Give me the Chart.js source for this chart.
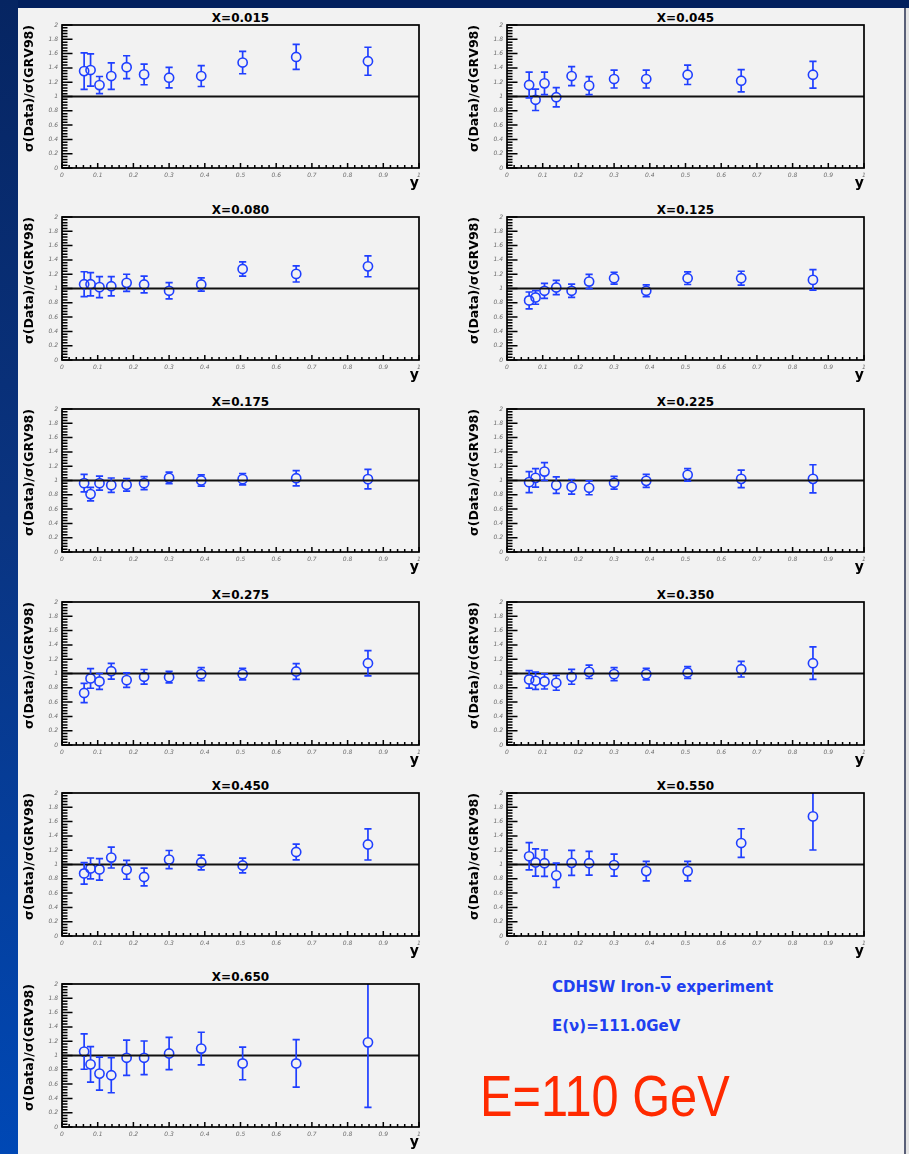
<!DOCTYPE html>
<html><head><meta charset="utf-8">
<script src="https://cdn.jsdelivr.net/npm/chart.js@4.4.1/dist/chart.umd.min.js"></script>
<style>
html,body{margin:0;padding:0;}
body{width:909px;height:1154px;position:relative;overflow:hidden;background:#02205e;font-family:'DejaVu Sans',sans-serif;}
#strip{position:absolute;left:0;top:0;width:18px;height:1154px;background:linear-gradient(to bottom,#062562 0%,#0a3481 45%,#0048b5 100%);}
#sheet{position:absolute;left:18px;top:8px;width:887px;height:1146px;background:#f2f2f2;}
#edge{position:absolute;left:904px;top:8px;width:2px;height:1146px;background:#5a6078;}
#edge2{position:absolute;left:906px;top:8px;width:3px;height:1146px;background:#e4e4e4;}
canvas{position:absolute;}
.ptitle{position:absolute;width:357px;text-align:center;font:bold 12px 'DejaVu Sans',sans-serif;color:#000;line-height:14px;white-space:nowrap;}
.note{position:absolute;left:552px;font:bold 15px 'DejaVu Sans',sans-serif;color:#2040f0;line-height:18px;white-space:nowrap;}
.nubar{text-decoration:overline;text-decoration-thickness:2px;}
#big{position:absolute;left:480px;top:1067px;font:58px 'Liberation Sans',sans-serif;color:#ff2a00;line-height:58px;white-space:nowrap;transform:scaleX(0.84);transform-origin:0 0;}
</style></head>
<body>
<div id="strip"></div>
<div id="sheet"></div>
<div id="edge"></div>
<div id="edge2"></div>
<div class="note" style="top:978px">CDHSW Iron-<span class="nubar">ν</span> experiment</div>
<div class="note" style="top:1017px">E(ν)=111.0GeV</div>
<div id="big">E=110 GeV</div>
<script>
// ---- data ----
const yBins = [0.062, 0.080, 0.105, 0.138, 0.181, 0.230, 0.300, 0.390, 0.506, 0.656, 0.857];
const xTickLabels = ['0','0.1','0.2','0.3','0.4','0.5','0.6','0.7','0.8','0.9','1'];
const yTickLabels = ['0','0.2','0.4','0.6','0.8','1','1.2','1.4','1.6','1.8','2'];
const unityLine = [{x:0, y:1}, {x:1, y:1}];
const panelTitles = ['X=0.015','X=0.045','X=0.080','X=0.125','X=0.175','X=0.225','X=0.275','X=0.350','X=0.450','X=0.550','X=0.650'];

const r015 = [1.355, 1.37, 1.16, 1.286, 1.41, 1.309, 1.263, 1.286, 1.475, 1.553, 1.493];
const e015 = [0.255, 0.225, 0.12, 0.185, 0.16, 0.145, 0.143, 0.146, 0.157, 0.175, 0.196];
const r045 = [1.161, 0.954, 1.184, 0.99, 1.286, 1.152, 1.244, 1.244, 1.304, 1.221, 1.304];
const e045 = [0.18, 0.15, 0.157, 0.135, 0.133, 0.125, 0.125, 0.125, 0.136, 0.155, 0.187];
const r080 = [1.06, 1.06, 1.019, 1.032, 1.079, 1.056, 0.968, 1.056, 1.273, 1.204, 1.31];
const e080 = [0.174, 0.162, 0.146, 0.134, 0.12, 0.116, 0.113, 0.092, 0.1, 0.113, 0.146];
const r125 = [0.833, 0.875, 0.968, 1.014, 0.968, 1.097, 1.144, 0.968, 1.144, 1.144, 1.12];
const e125 = [0.118, 0.095, 0.105, 0.1, 0.092, 0.1, 0.083, 0.083, 0.088, 0.097, 0.144];
const r175 = [0.963, 0.81, 0.963, 0.935, 0.94, 0.963, 1.037, 1.0, 1.019, 1.032, 1.019];
const e175 = [0.122, 0.095, 0.097, 0.1, 0.088, 0.09, 0.081, 0.079, 0.079, 0.107, 0.137];
const r225 = [0.977, 1.037, 1.125, 0.935, 0.912, 0.898, 0.968, 0.995, 1.079, 1.023, 1.023];
const e225 = [0.146, 0.13, 0.125, 0.116, 0.102, 0.097, 0.09, 0.09, 0.088, 0.123, 0.197];
const r275 = [0.727, 0.931, 0.889, 1.032, 0.907, 0.954, 0.949, 0.991, 0.991, 1.028, 1.144];
const e275 = [0.134, 0.137, 0.111, 0.111, 0.102, 0.102, 0.081, 0.092, 0.081, 0.111, 0.176];
const r350 = [0.917, 0.898, 0.889, 0.87, 0.954, 1.023, 0.991, 0.991, 1.014, 1.06, 1.144];
const e350 = [0.122, 0.12, 0.106, 0.104, 0.104, 0.093, 0.092, 0.081, 0.083, 0.109, 0.227];
const r450 = [0.875, 0.945, 0.931, 1.097, 0.926, 0.825, 1.069, 1.028, 0.986, 1.175, 1.28];
const e450 = [0.15, 0.146, 0.15, 0.146, 0.132, 0.123, 0.127, 0.102, 0.102, 0.11, 0.217];
const r550 = [1.115, 1.028, 1.018, 0.848, 1.023, 1.018, 0.991, 0.908, 0.908, 1.3, 1.673];
const e550 = [0.19, 0.19, 0.185, 0.17, 0.175, 0.166, 0.153, 0.136, 0.136, 0.2, 0.47];
const r650 = [1.055, 0.876, 0.747, 0.724, 0.968, 0.968, 1.028, 1.097, 0.889, 0.889, 1.184];
const e650 = [0.247, 0.247, 0.23, 0.245, 0.247, 0.235, 0.226, 0.228, 0.228, 0.332, 0.91];

const ratios = [r015, r045, r080, r125, r175, r225, r275, r350, r450, r550, r650];
const errors = [e015, e045, e080, e125, e175, e225, e275, e350, e450, e550, e650];

// ---- styling / layout ----
const BLUE = '#1f3fff';
const FONT = "'DejaVu Sans', sans-serif";
const CW = 425, CH = 196;
const colLeft = [20, 465];
const rowTop = [0, 192, 384, 577, 768, 959];
const FRAME_LEFT = 42, FRAME_TOP = 25;

const frameTicks = {
  id: 'frameTicks',
  afterDraw(chart) {
    const {ctx, chartArea: a, scales: {x, y}} = chart;
    const yv = yTickLabels.map(parseFloat), xv = xTickLabels.map(parseFloat);
    ctx.save();
    ctx.strokeStyle = '#000';
    ctx.lineWidth = 1.5;
    ctx.beginPath();
    for (let i = 0; i < yv.length; i++) {
      const p = y.getPixelForValue(yv[i]);
      ctx.moveTo(a.left, p); ctx.lineTo(a.left + 10.5, p);
      if (i < yv.length - 1) for (let k = 1; k < 5; k++) {
        const q = y.getPixelForValue(yv[i] + (yv[i + 1] - yv[i]) * k / 5);
        ctx.moveTo(a.left, q); ctx.lineTo(a.left + 5.5, q);
      }
    }
    for (let i = 0; i < xv.length; i++) {
      const p = x.getPixelForValue(xv[i]);
      ctx.moveTo(p, a.bottom); ctx.lineTo(p, a.bottom - 5);
      if (i < xv.length - 1) for (let k = 1; k < 5; k++) {
        const q = x.getPixelForValue(xv[i] + (xv[i + 1] - xv[i]) * k / 5);
        ctx.moveTo(q, a.bottom); ctx.lineTo(q, a.bottom - 3);
      }
    }
    ctx.stroke();
    ctx.lineWidth = 1.7;
    ctx.strokeRect(a.left, a.top, a.right - a.left, a.bottom - a.top);
    ctx.restore();
  }
};

const errorBars = {
  id: 'errorBars',
  afterDatasetsDraw(chart) {
    const {ctx, chartArea: a, scales: {x, y}} = chart;
    ctx.save();
    ctx.beginPath(); ctx.rect(a.left, a.top, a.right - a.left, a.bottom - a.top); ctx.clip();
    chart.data.datasets.forEach(ds => {
      if (!ds.errors) return;
      ctx.strokeStyle = ds.pointBorderColor;
      ctx.lineWidth = 1.7;
      const r = ds.pointRadius;
      ds.data.forEach((pt, i) => {
        const e = ds.errors[i];
        const px = x.getPixelForValue(pt.x), py = y.getPixelForValue(pt.y);
        const hi = y.getPixelForValue(pt.y + e), lo = y.getPixelForValue(pt.y - e);
        ctx.beginPath();
        if (py - hi > r) { ctx.moveTo(px, py - r); ctx.lineTo(px, hi); ctx.moveTo(px - 3.6, hi); ctx.lineTo(px + 3.6, hi); }
        if (lo - py > r) { ctx.moveTo(px, py + r); ctx.lineTo(px, lo); ctx.moveTo(px - 3.6, lo); ctx.lineTo(px + 3.6, lo); }
        ctx.stroke();
      });
    });
    ctx.restore();
  }
};

function makePanel(idx) {
  const col = idx % 2, row = Math.floor(idx / 2);
  const left = colLeft[col], top = rowTop[row];
  const t = document.createElement('div');
  t.className = 'ptitle';
  t.style.left = (left + FRAME_LEFT) + 'px';
  t.style.top = (top + FRAME_TOP - 14.2) + 'px';
  t.textContent = panelTitles[idx];
  document.body.appendChild(t);

  const cv = document.createElement('canvas');
  cv.width = CW; cv.height = CH;
  cv.style.left = left + 'px'; cv.style.top = top + 'px';
  cv.style.width = CW + 'px'; cv.style.height = CH + 'px';
  document.body.appendChild(cv);

  const tickFont = {family: FONT, size: 6, style: 'italic'};
  new Chart(cv, {
    type: 'scatter',
    data: {
      datasets: [
        {type: 'line', data: unityLine, borderColor: '#111', borderWidth: 1.8, pointRadius: 0, fill: false},
        {data: yBins.map((v, i) => ({x: v, y: ratios[idx][i]})), errors: errors[idx],
         pointRadius: 4.6, pointBorderWidth: 1.6, pointBorderColor: BLUE,
         pointBackgroundColor: 'rgba(0,0,0,0)', showLine: false}
      ]
    },
    options: {
      responsive: false, animation: false, devicePixelRatio: 1,
      layout: {padding: {left: 0, right: CW - 399, top: FRAME_TOP, bottom: 0}},
      plugins: {legend: {display: false}, tooltip: {enabled: false}, title: {display: false}},
      scales: {
        x: {
          type: 'linear', min: 0, max: 1,
          grid: {display: false, drawTicks: false}, border: {display: false},
          afterBuildTicks: s => { s.ticks = xTickLabels.map(l => ({value: parseFloat(l)})); },
          ticks: {autoSkip: false, maxRotation: 0, minRotation: 0, padding: 4, font: tickFont, color: '#6d6d6d',
                  callback: (v, i) => xTickLabels[i]},
          title: {display: true, text: 'y', align: 'end', color: '#000',
                  font: {family: FONT, size: 14, weight: 'bold'}, padding: {top: 0, bottom: 4}},
          afterFit: s => { s.height = 28; }
        },
        y: {
          type: 'linear', min: 0, max: 2,
          grid: {display: false, drawTicks: false}, border: {display: false},
          afterBuildTicks: s => { s.ticks = yTickLabels.map(l => ({value: parseFloat(l)})); },
          ticks: {autoSkip: false, padding: 4, font: tickFont, color: '#6d6d6d',
                  callback: (v, i) => yTickLabels[i]},
          title: {display: true, text: 'σ(Data)/σ(GRV98)', align: 'end', color: '#000',
                  font: {family: FONT, size: 12.5, weight: 'bold'}, padding: {top: 2, bottom: 0}},
          afterFit: s => { s.width = FRAME_LEFT; }
        }
      }
    },
    plugins: [errorBars, frameTicks]
  });
}

for (let i = 0; i < panelTitles.length; i++) makePanel(i);
</script>
</body></html>
